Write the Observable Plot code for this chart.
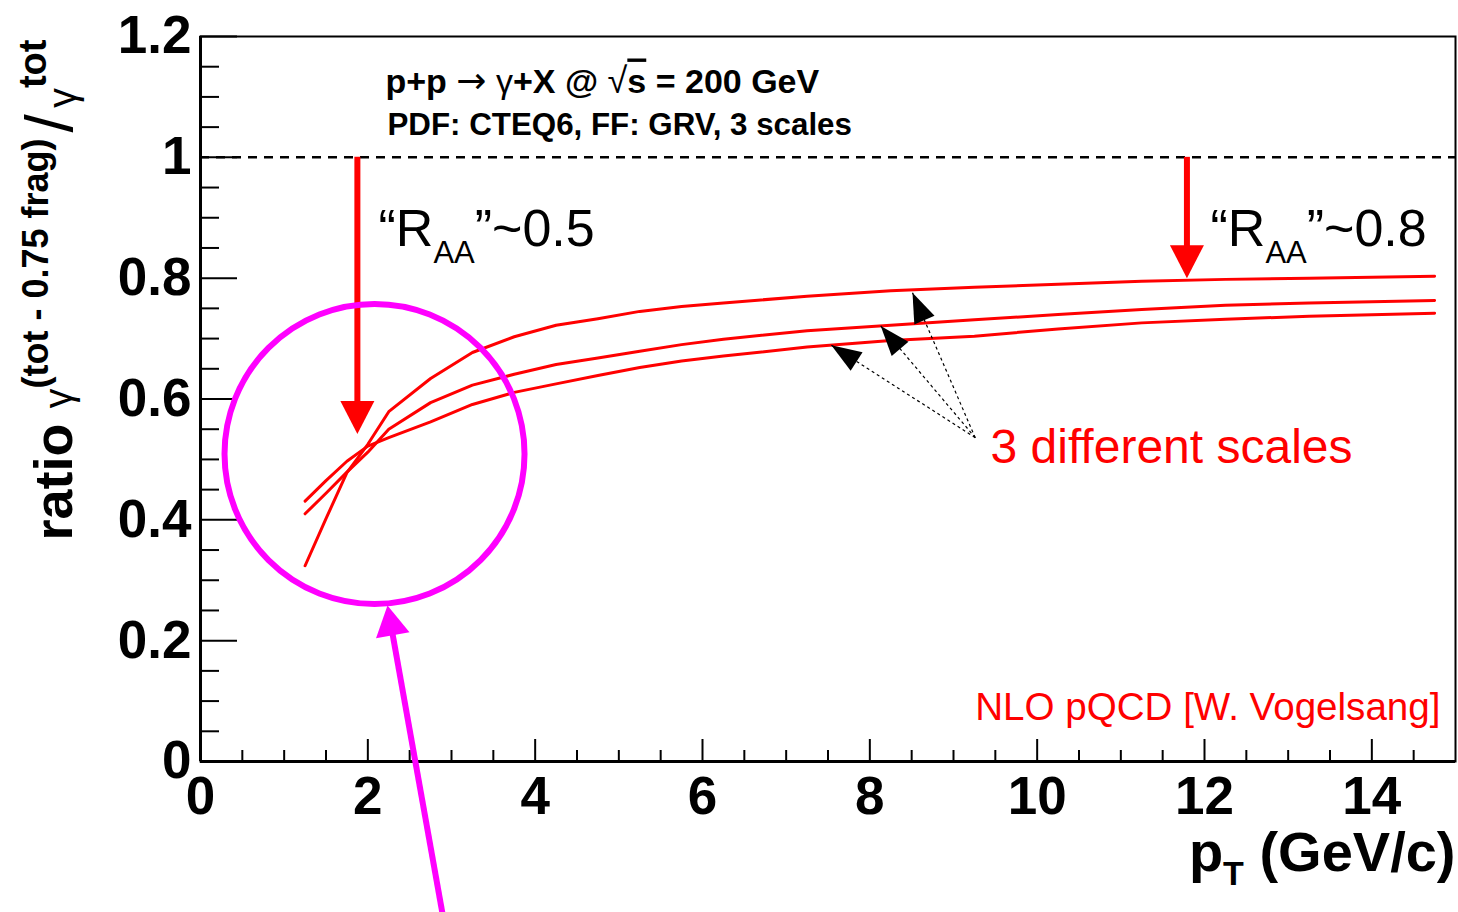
<!DOCTYPE html>
<html><head><meta charset="utf-8">
<script src="https://cdn.jsdelivr.net/npm/d3@7"></script>
<script src="https://cdn.jsdelivr.net/npm/@observablehq/plot@0.6"></script>
<style>html,body{margin:0;padding:0;background:#fff;overflow:hidden}</style>
</head><body><div id="chart"></div>
<script>
// ---------- data ----------
const pT     = [1.25, 1.5, 1.75, 2.0, 2.25, 2.75, 3.25, 3.75, 4.25, 4.75, 5.25, 5.75, 6.25, 7.25, 8.25, 9.25, 10.25, 11.25, 12.25, 13.25, 14.75];
const scaleA = [0.324, 0.402, 0.478, 0.525, 0.579, 0.634, 0.677, 0.703, 0.722, 0.733, 0.745, 0.753, 0.759, 0.770, 0.779, 0.785, 0.790, 0.795, 0.798, 0.800, 0.803];
const scaleB = [0.410, 0.444, 0.479, 0.512, 0.550, 0.594, 0.623, 0.641, 0.657, 0.668, 0.679, 0.690, 0.699, 0.713, 0.722, 0.731, 0.740, 0.748, 0.755, 0.759, 0.763];
const scaleC = [0.431, 0.465, 0.497, 0.522, 0.536, 0.562, 0.591, 0.611, 0.625, 0.639, 0.652, 0.663, 0.671, 0.686, 0.697, 0.704, 0.716, 0.726, 0.732, 0.737, 0.742];
const seriesNames = ["scale A", "scale B", "scale C"];

const xTicks = [0, 2, 4, 6, 8, 10, 12, 14];
const xTickLabels = ["0", "2", "4", "6", "8", "10", "12", "14"];
const yTicks = [0, 0.2, 0.4, 0.6, 0.8, 1, 1.2];
const yTickLabels = ["0", "0.2", "0.4", "0.6", "0.8", "1", "1.2"];

const referenceLine = [1];
const raaArrows = [
  {x: 1.875, from: 1, to: 0.542, label: "“RAA”~0.5"},
  {x: 11.79, from: 1, to: 0.800, label: "“RAA”~0.8"}
];
const pointerTail = [9.26, 0.536];
const pointerTips = [[7.54, 0.689], [8.13, 0.721], [8.51, 0.776]];
const focusCircle = [[2.08, 0.509]];
const focusArrow = {from: [2.89, -0.25], to: [2.235, 0.258]};

const titleLine1 = "p+p → γ+X @ √s = 200 GeV";
const titleLine2 = "PDF: CTEQ6, FF: GRV, 3 scales";
const scalesNote = "3 different scales";
const creditNote = "NLO pQCD [W. Vogelsang]";
const xTitle = "pT (GeV/c)";
const yTitle = "ratio γ(tot - 0.75 frag)/γtot";

// ---------- layout ----------
const W = 1458, H = 912;
const mL = 200, mR = 3, mT = 36, mB = 151;
const xDom = [0, 15], yDom = [0, 1.2];
const kx = (W - mL - mR) / (xDom[1] - xDom[0]);
const ky = (H - mT - mB) / (yDom[1] - yDom[0]);
const FONT = "'Liberation Sans', Arial, Helvetica, sans-serif";
const RED = "#ff0000", MAG = "#ff00ff";

const curves = [];
[scaleA, scaleB, scaleC].forEach((s, j) => pT.forEach((x, i) => curves.push({series: seriesNames[j], x, y: s[i]})));

const xMinor = d3.range(0, 31).map(i => i * 0.5).filter(v => v % 2 !== 0 && v < 15);
const yMinor = d3.range(0, 25).map(i => +(i * 0.05).toFixed(2)).filter((v, i) => i % 4 !== 0);

const angle = (a, b) => Math.atan2((b[0] - a[0]) * kx, (b[1] - a[1]) * ky) * 180 / Math.PI;
const magAngle = angle(focusArrow.from, focusArrow.to);
const magLenPx = Math.hypot((focusArrow.to[0] - focusArrow.from[0]) * kx, (focusArrow.to[1] - focusArrow.from[1]) * ky);
const magFrac = (magLenPx - 22) / magLenPx;
const magShaftEnd = [focusArrow.from[0] + magFrac * (focusArrow.to[0] - focusArrow.from[0]),
                     focusArrow.from[1] + magFrac * (focusArrow.to[1] - focusArrow.from[1])];

const txt = (s, o) => Plot.text([s], {text: d => d, fontFamily: FONT, lineAnchor: "bottom", ...o});

const chart = Plot.plot({
  width: W, height: H,
  marginLeft: mL, marginRight: mR, marginTop: mT, marginBottom: mB,
  style: {fontFamily: FONT, background: "white", color: "black"},
  x: {domain: xDom, axis: null},
  y: {domain: yDom, axis: null},
  marks: [
    Plot.frame({stroke: "black", strokeWidth: 2}),
    Plot.ruleX([0], {stroke: "black", strokeWidth: 3}),
    Plot.ruleY([0], {stroke: "black", strokeWidth: 3}),
    Plot.axisY(yTicks, {anchor: "left", tickSize: -37, tickFormat: () => "", label: null, strokeWidth: 2}),
    Plot.axisY(yMinor, {anchor: "left", tickSize: -19, tickFormat: () => "", label: null, strokeWidth: 2}),
    Plot.axisX(xTicks, {anchor: "bottom", tickSize: -22, tickFormat: () => "", label: null, strokeWidth: 2}),
    Plot.axisX(xMinor, {anchor: "bottom", tickSize: -11, tickFormat: () => "", label: null, strokeWidth: 2}),
    Plot.axisY(yTicks, {anchor: "left", tickSize: 0, tickPadding: 9, tickFormat: (d, i) => yTickLabels[i],
      label: null, fontSize: 53, fontWeight: "bold", fontFamily: FONT}),
    Plot.axisX(xTicks, {anchor: "bottom", tickSize: 0, tickPadding: 15, tickFormat: (d, i) => xTickLabels[i],
      label: null, fontSize: 53, fontWeight: "bold", fontFamily: FONT}),
    Plot.ruleY(referenceLine, {stroke: "black", strokeWidth: 2.5, strokeDasharray: "9,7"}),
    Plot.line(curves, {x: "x", y: "y", z: "series", stroke: RED, strokeWidth: 3}),
    Plot.ruleX(raaArrows, {x: "x", y1: "from", y2: "to", stroke: RED, strokeWidth: 6, insetBottom: 25}),
    Plot.vector(raaArrows, {x: "x", y: "to", rotate: 180, length: 33, r: 17, anchor: "end", shape: "spike", fill: RED, stroke: "none"}),
    Plot.link(pointerTips, {x1: () => pointerTail[0], y1: () => pointerTail[1], x2: d => d[0], y2: d => d[1],
      stroke: "black", strokeWidth: 1.2, strokeDasharray: "3,3"}),
    Plot.vector(pointerTips, {x: d => d[0], y: d => d[1], rotate: d => angle(pointerTail, d), length: 30, r: 11,
      anchor: "end", shape: "spike", fill: "black", stroke: "none"}),
    Plot.dot(focusCircle, {x: d => d[0], y: d => d[1], r: 150, stroke: MAG, strokeWidth: 6, fill: "none"}),
    Plot.link([focusArrow], {x1: d => d.from[0], y1: d => d.from[1], x2: () => magShaftEnd[0], y2: () => magShaftEnd[1],
      stroke: MAG, strokeWidth: 6}),
    Plot.vector([focusArrow], {x: d => d.to[0], y: d => d.to[1], rotate: magAngle, length: 30, r: 17,
      anchor: "end", shape: "spike", fill: MAG, stroke: "none"}),
    txt(titleLine1, {frameAnchor: "top-left", textAnchor: "start", dx: 185, dy: 56, fontSize: 34, fontWeight: "bold"}),
    txt(titleLine2, {frameAnchor: "top-left", textAnchor: "start", dx: 187, dy: 98, fontSize: 31.3, fontWeight: "bold"}),
    txt(raaArrows[0].label, {frameAnchor: "top-left", textAnchor: "start", dx: 178, dy: 209, fontSize: 52}),
    txt(raaArrows[1].label, {frameAnchor: "top-left", textAnchor: "start", dx: 1010, dy: 209, fontSize: 52}),
    txt(scalesNote, {frameAnchor: "top-left", textAnchor: "start", dx: 790, dy: 426, fontSize: 48, fill: RED}),
    txt(creditNote, {frameAnchor: "bottom-right", textAnchor: "end", dx: -15, dy: -42, fontSize: 38.6, fill: RED}),
    txt(xTitle, {frameAnchor: "bottom-right", textAnchor: "end", dx: 0, dy: 109, fontSize: 56, fontWeight: "bold"}),
    txt(yTitle, {frameAnchor: "left", textAnchor: "start", rotate: -90, dx: -129, dy: 141.5, fontSize: 54, fontWeight: "bold"})
  ]
});

// rich text (sub/superscripts) as tspans
function rich(match, parts) {
  d3.select(chart).selectAll("text").filter(function () { return this.textContent === match; }).each(function () {
    const t = d3.select(this);
    t.text(null);
    let cur = 0;
    for (const p of parts) {
      const s = t.append("tspan").text(p.t);
      if (p.size) s.attr("font-size", p.size);
      if (p.weight) s.attr("font-weight", p.weight);
      if (p.family) s.attr("font-family", p.family);
      if (p.dx) s.attr("dx", p.dx);
      const sh = (p.shift || 0) - cur;
      if (sh) s.attr("dy", sh);
      cur = p.shift || 0;
      if (p.deco) s.style("text-decoration", p.deco);
    }
  });
}
rich(titleLine1, [{t: "p+p "}, {t: "→", weight: "normal", size: 36, family: "'DejaVu Sans', sans-serif"},
  {t: " γ", weight: "normal"}, {t: "+X @ "},
  {t: "√", weight: "normal", size: 36}, {t: "s", deco: "overline"}, {t: " = 200 GeV"}]);
for (const a of raaArrows) {
  const tail = a.label.slice(4);
  rich(a.label, [{t: "“R"}, {t: "AA", size: 31, shift: 17}, {t: tail, shift: 0}]);
}
rich(xTitle, [{t: "p"}, {t: "T", size: 34, shift: 14}, {t: " (GeV/c)", shift: 0}]);
rich(yTitle, [{t: "ratio "}, {t: "γ", size: 40, weight: "normal"},
  {t: "(tot - 0.75 frag)", size: 36, shift: -24}, {t: "/", size: 66, weight: "normal", shift: 0, dx: 6},
  {t: "γ", size: 40, weight: "normal", shift: 4, dx: 6}, {t: "tot", size: 38, shift: -26}]);

document.getElementById("chart").appendChild(chart);
</script>
</body></html>
